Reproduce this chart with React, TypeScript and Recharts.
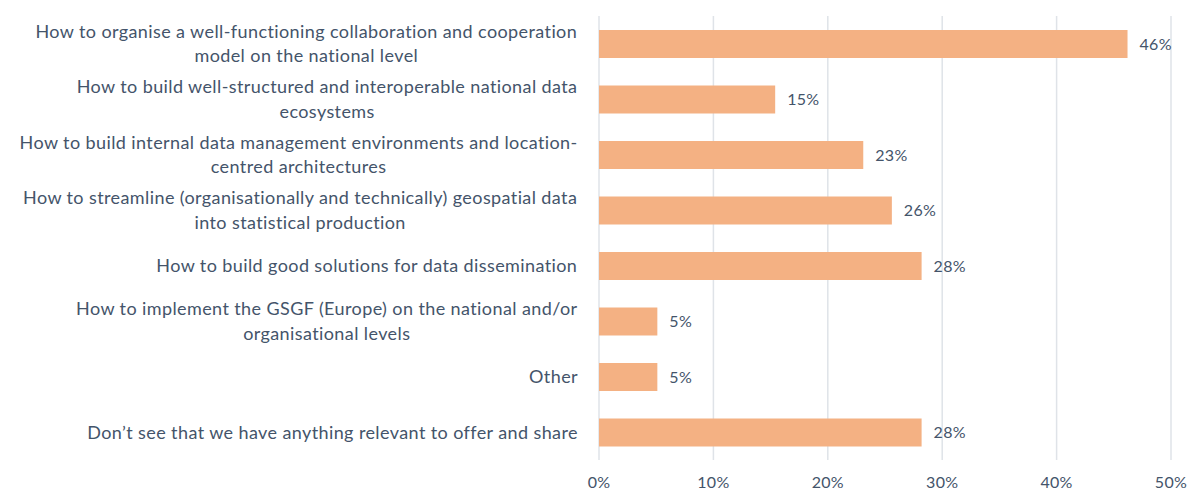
import { BarChart, Bar, XAxis, YAxis, CartesianGrid, LabelList } from 'recharts'

const CATEGORIES = [
  ['How to organise a well-functioning collaboration and cooperation', 'model on the national level'],
  ['How to build well-structured and interoperable national data', 'ecosystems'],
  ['How to build internal data management environments and location-', 'centred architectures'],
  ['How to streamline (organisationally and technically) geospatial data', 'into statistical production'],
  ['How to build good solutions for data dissemination'],
  ['How to implement the GSGF (Europe) on the national and/or', 'organisational levels'],
  ['Other'],
  ['Don\u2019t see that we have anything relevant to offer and share'],
]

const SHARES = [46.2, 15.4, 23.1, 25.6, 28.2, 5.1, 5.1, 28.2]

const X_TICKS = [0, 10, 20, 30, 40, 50]

const FONT = 'Lato, "Noto Sans", sans-serif'
const FONT_SIZE = 18
const LETTER = 0.4
const TEXT = '#44546a'
const NUM_STYLE = { fill: TEXT, fontSize: 16, fontFamily: FONT, letterSpacing: 0.3 }

const data = CATEGORIES.map((_, i) => ({ key: String(i), share: SHARES[i] }))

let ctx: CanvasRenderingContext2D | null = null
function measure(s: string) {
  if (!ctx) ctx = document.createElement('canvas').getContext('2d')
  if (!ctx) return s.length * 8.5
  ctx.font = `${FONT_SIZE}px Lato`
  return ctx.measureText(s).width + LETTER * s.length
}

function CategoryTick(props: any) {
  const { x, y, payload } = props
  const lines = CATEGORIES[Number(payload.value)]
  const w = Math.max(...lines.map(measure))
  const cx = x - 13 - w / 2
  const lh = 24.5
  const y0 = y - ((lines.length - 1) * lh) / 2
  return (
    <text x={cx} y={y0} textAnchor="middle" fill={TEXT} fontSize={FONT_SIZE} fontFamily={FONT} letterSpacing={LETTER}>
      {lines.map((l, i) => (
        <tspan key={i} x={cx} y={y0 + i * lh} dy="0.35em">{l}</tspan>
      ))}
    </text>
  )
}

export default function App() {
  return (
    <div style={{ position: 'absolute', left: 0, top: 0, background: '#fff' }}>
      <BarChart
        width={1189}
        height={490}
        data={data}
        layout="vertical"
        margin={{ top: 16, right: 18, left: 0, bottom: 0 }}
        barSize={28}
      >
        <CartesianGrid horizontal={false} stroke="#dfe3e8" strokeWidth={1.5} />
        <XAxis
          type="number"
          domain={[0, 50]}
          ticks={X_TICKS}
          tickFormatter={(v: number) => `${v}%`}
          axisLine={false}
          tickLine={false}
          tickMargin={11}
          height={30}
          tick={NUM_STYLE}
          interval={0}
        />
        <YAxis
          type="category"
          dataKey="key"
          width={599}
          axisLine={false}
          tickLine={false}
          tick={<CategoryTick />}
          interval={0}
        />
        <Bar dataKey="share" fill="#f4b183" isAnimationActive={false}>
          <LabelList
            dataKey="share"
            position="right"
            offset={12}
            formatter={(v: any) => `${Math.round(Number(v))}%`}
            style={NUM_STYLE}
          />
        </Bar>
      </BarChart>
    </div>
  )
}
